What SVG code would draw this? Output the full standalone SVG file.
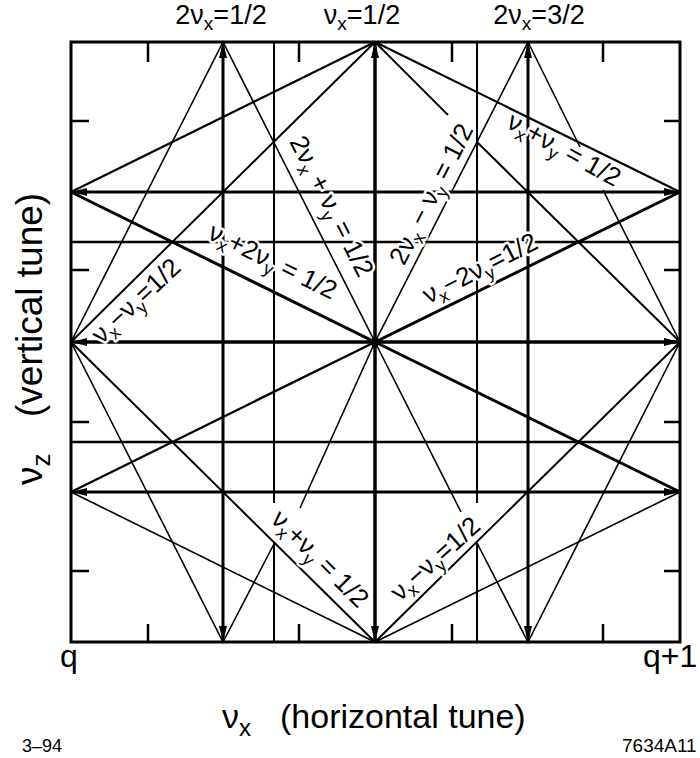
<svg xmlns="http://www.w3.org/2000/svg" width="700" height="758" viewBox="0 0 700 758">
<style>
.ln{stroke:#000;fill:none;stroke-linecap:butt}
.t{font-family:"Liberation Sans",Arial,sans-serif;fill:#000}
.lab{font-family:"Liberation Sans",Arial,sans-serif;fill:#000;font-size:26px;stroke:#fff;stroke-width:5px;paint-order:stroke;stroke-linejoin:round}
</style>
<defs>
<marker id="ah" viewBox="0 0 16 8" refX="16" refY="4" markerWidth="16" markerHeight="8" markerUnits="userSpaceOnUse" orient="auto-start-reverse">
<path d="M0,0 L16,4 L0,8 Z" fill="#000"/>
</marker>
</defs>
<rect width="700" height="758" fill="#fff"/>
<g id="connectors">
<g id="grid">
<line class="ln" x1="223" y1="42" x2="223" y2="642" stroke-width="3" marker-start="url(#ah)" marker-end="url(#ah)"/>
<line class="ln" x1="375" y1="42" x2="375" y2="642" stroke-width="3.5" marker-start="url(#ah)" marker-end="url(#ah)"/>
<line class="ln" x1="528" y1="42" x2="528" y2="642" stroke-width="3" marker-start="url(#ah)" marker-end="url(#ah)"/>
<path class="ln" d="M274,42V503M274,542V642" stroke-width="2"/>
<path class="ln" d="M477,42V503M477,543V642" stroke-width="2"/>
<line class="ln" x1="71" y1="192" x2="680" y2="192" stroke-width="3" marker-start="url(#ah)" marker-end="url(#ah)"/>
<line class="ln" x1="71" y1="342" x2="680" y2="342" stroke-width="3.5" marker-start="url(#ah)" marker-end="url(#ah)"/>
<line class="ln" x1="71" y1="492" x2="680" y2="492" stroke-width="3" marker-start="url(#ah)" marker-end="url(#ah)"/>
<path class="ln" d="M71,242H680" stroke-width="2.5"/>
<path class="ln" d="M71,442H680" stroke-width="2.5"/>
</g>
<g id="diamond45">
<path class="ln" d="M71,342L375,42" stroke-width="2"/>
<path class="ln" d="M375,42L448,115M477,142L680,342" stroke-width="2"/>
<path class="ln" d="M680,342L375,642L71,342" stroke-width="2"/>
</g>
<g id="steep">
<path class="ln" d="M71,342L223,42L375,342L528,42" stroke-width="1.6"/>
<path class="ln" d="M528,42L580,147M603,190L680,342" stroke-width="1.6"/>
<path class="ln" d="M71,342L223,642L275,542M300,508L375,342" stroke-width="1.6"/>
<path class="ln" d="M375,342L461,512M477,543L528,642L680,342" stroke-width="1.6"/>
</g>
<g id="shallow">
<path class="ln" d="M71,192L375,42L680,192" stroke-width="2.2"/>
<path class="ln" d="M71,192L375,342L680,192" stroke-width="3"/>
<path class="ln" d="M71,492L375,342" stroke-width="2.4"/>
<path class="ln" d="M375,342L680,492" stroke-width="3"/>
<path class="ln" d="M71,492L375,642L680,492" stroke-width="1.6"/>
</g>
<g id="ticks">
<path class="ln" d="M148,42V62M299,42V62M452,42V62M603,42V62M148,624V642M299,624V642M452,624V642M603,624V642M71,121H89M71,270H89M71,422H89M71,571H89M664,121H680M664,270H680M664,422H680M664,571H680" stroke-width="2.5"/>
</g>
</g>
<g id="frame"><rect class="ln" x="71" y="42" width="609" height="600" stroke-width="3"/></g>
<g id="center"><circle cx="375" cy="342" r="4.5" fill="#000"/></g>
<g id="labels">
<text class="lab" text-anchor="middle" transform="translate(324,210) rotate(63)">2ν<tspan font-size="18" dy="6">x</tspan><tspan dy="-6"> + ν</tspan><tspan font-size="18" dy="6">y</tspan><tspan dy="-6"> = 1/2</tspan></text>
<text class="lab" text-anchor="middle" transform="translate(269,269) rotate(26.3)">ν<tspan font-size="18" dy="6">x</tspan><tspan dy="-6">+2ν</tspan><tspan font-size="18" dy="6">y</tspan><tspan dy="-6"> = 1/2</tspan></text>
<text class="lab" text-anchor="middle" transform="translate(142,307) rotate(-43)">ν<tspan font-size="18" dy="6">x</tspan><tspan dy="-6">−ν</tspan><tspan font-size="18" dy="6">y</tspan><tspan dy="-6">=1/2</tspan></text>
<text class="lab" text-anchor="middle" transform="translate(439,198) rotate(-63)">2ν<tspan font-size="18" dy="6">x</tspan><tspan dy="-6"> − ν</tspan><tspan font-size="18" dy="6">y</tspan><tspan dy="-6"> = 1/2</tspan></text>
<text class="lab" text-anchor="middle" transform="translate(560,157) rotate(29)">ν<tspan font-size="18" dy="6">x</tspan><tspan dy="-6">+ν</tspan><tspan font-size="18" dy="6">y</tspan><tspan dy="-6"> = 1/2</tspan></text>
<text class="lab" text-anchor="middle" transform="translate(484,276) rotate(-27)">ν<tspan font-size="18" dy="6">x</tspan><tspan dy="-6">−2ν</tspan><tspan font-size="18" dy="6">y</tspan><tspan dy="-6">=1/2</tspan></text>
<text class="lab" text-anchor="middle" transform="translate(314,565) rotate(45)">ν<tspan font-size="18" dy="6">x</tspan><tspan dy="-6">+ν</tspan><tspan font-size="18" dy="6">y</tspan><tspan dy="-6"> = 1/2</tspan></text>
<text class="lab" text-anchor="middle" transform="translate(441,565) rotate(-42)">ν<tspan font-size="18" dy="6">x</tspan><tspan dy="-6">−ν</tspan><tspan font-size="18" dy="6">y</tspan><tspan dy="-6">=1/2</tspan></text>
</g>
<g id="axis-labels">
<text class="t" font-size="27" text-anchor="middle" x="221" y="24">2ν<tspan font-size="19" dy="6">x</tspan><tspan dy="-6">=1/2</tspan></text>
<text class="t" font-size="27" text-anchor="middle" x="362" y="24">ν<tspan font-size="19" dy="6">x</tspan><tspan dy="-6">=1/2</tspan></text>
<text class="t" font-size="27" text-anchor="middle" x="539" y="24">2ν<tspan font-size="19" dy="6">x</tspan><tspan dy="-6">=3/2</tspan></text>
<text class="t" font-size="32" x="60" y="667">q</text>
<text class="t" font-size="32" x="643" y="667">q+1</text>
<text class="t" font-size="34" x="222" y="728">ν<tspan font-size="24" dy="8">x</tspan><tspan dy="-8" x="280">(horizontal tune)</tspan></text>
<text class="t" font-size="37" transform="translate(42,485) rotate(-90)">ν<tspan font-size="26" dy="8">z</tspan><tspan dy="-8" x="68">(vertical tune)</tspan></text>
<text class="t" font-size="18" x="22" y="752">3–94</text>
<text class="t" font-size="19" x="622" y="752">7634A11</text>
</g>
</svg>
